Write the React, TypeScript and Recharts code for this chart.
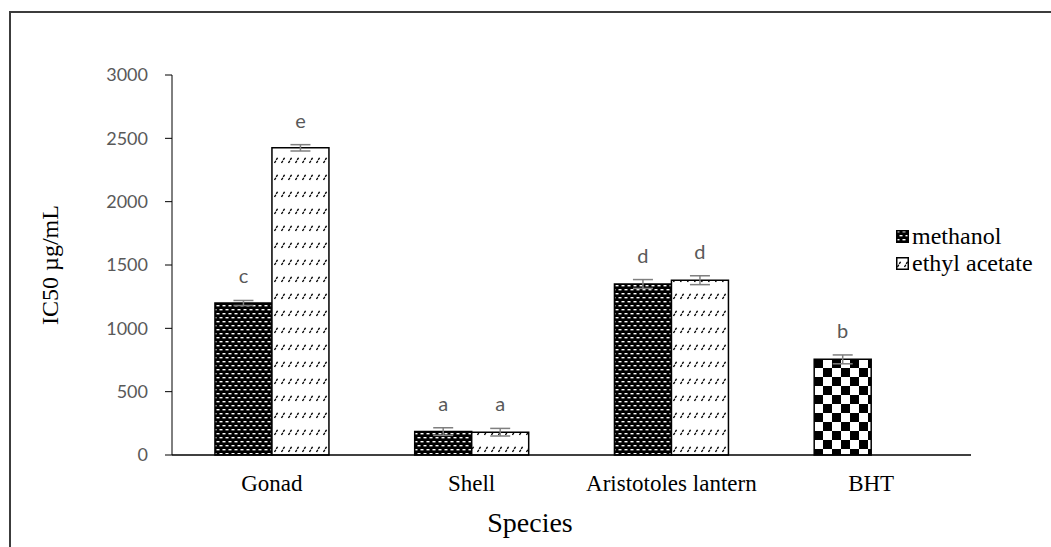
import { BarChart, Bar, XAxis, YAxis, ErrorBar, Cell, LabelList } from "recharts"

const categories = ["Gonad", "Shell", "Aristotoles lantern", "BHT"]
const methanol = [1200, 185, 1350, 755]
const methanolErr = [20, 30, 35, 35]
const ethylAcetate = [2425, 180, 1380, null]
const ethylErr = [25, 30, 35, null]
const methanolLetters = ["c", "a", "d", "b"]
const ethylLetters = ["e", "a", "d", ""]
const yTicks = [0, 500, 1000, 1500, 2000, 2500, 3000]

const PLOT_H = 380
const Y_MAX = 3000

const serif = "'Liberation Serif', 'Times New Roman', serif"
const sans = "Lato, 'Open Sans', sans-serif"

function Patterns({ suffix }: { suffix: string }) {
  return (
    <defs>
      <pattern id={`meth${suffix}`} width={6} height={8} patternUnits="userSpaceOnUse">
        <rect width={6} height={8} fill="#000" />
        <rect x={0.5} y={1} width={3} height={1.4} fill="#fff" />
        <rect x={3.5} y={5} width={3} height={1.4} fill="#fff" />
        <rect x={-2.5} y={5} width={3} height={1.4} fill="#fff" />
      </pattern>
      <pattern id={`ethyl${suffix}`} width={7} height={17} patternUnits="userSpaceOnUse">
        <rect width={7} height={17} fill="#fff" />
        <line x1={1.5} y1={10} x2={5} y2={4} stroke="#000" strokeWidth={1.4} strokeDasharray="2.6 0.9" />
      </pattern>
      <pattern id={`check${suffix}`} width={18} height={18} patternUnits="userSpaceOnUse" x={4} y={17}>
        <rect width={18} height={18} fill="#fff" />
        <rect x={0} y={0} width={9} height={9} fill="#000" />
        <rect x={9} y={9} width={9} height={9} fill="#000" />
      </pattern>
    </defs>
  )
}

function letterContent(letters: string[], errs: (number | null)[]) {
  return (props: any) => {
    const { x, y, width, index } = props
    const letter = letters[index]
    if (!letter) return null
    const errPx = ((errs[index] ?? 0) * PLOT_H) / Y_MAX
    return (
      <text
        x={x + width / 2}
        y={y - errPx - 17}
        textAnchor="middle"
        fill="#595959"
        fontFamily={sans}
        fontSize={20}
      >
        {letter}
      </text>
    )
  }
}

function LegendItem({ id, label }: { id: string; label: string }) {
  return (
    <div style={{ display: "flex", alignItems: "center", height: 26 }}>
      <svg width={13} height={13} style={{ marginRight: 3 }}>
        <Patterns suffix={`-lg-${id}`} />
        <rect x={0.75} y={0.75} width={11.5} height={11.5} fill={`url(#${id}-lg-${id})`} stroke="#000" strokeWidth={1.5} />
      </svg>
      <span style={{ fontFamily: serif, fontSize: 24, color: "#000", lineHeight: "26px" }}>{label}</span>
    </div>
  )
}

export default function App() {
  const data = categories.map((name, i) => ({
    name,
    methanol: methanol[i],
    methanolErr: methanolErr[i],
    ethyl: ethylAcetate[i],
    ethylErr: ethylErr[i],
  }))

  return (
    <div style={{ position: "fixed", left: 0, top: 0, width: 1051, height: 547, background: "#fff", overflow: "hidden" }}>
      <div style={{ position: "absolute", left: 9, top: 11, width: 1100, height: 700, border: "2px solid #3c3c3c" }} />
      <BarChart
        width={1051}
        height={547}
        data={data}
        margin={{ top: 75, right: 80, bottom: 62, left: 112 }}
        barCategoryGap="21.5%"
        barGap={0}
        style={{ position: "absolute", left: 0, top: 0 }}
      >
        <Patterns suffix="" />
        <XAxis
          dataKey="name"
          height={30}
          tickLine={false}
          axisLine={{ stroke: "#000", strokeWidth: 1.5 }}
          tickSize={0}
          tickMargin={20}
          tick={{ fill: "#000", fontFamily: serif, fontSize: 23 }}
        />
        <YAxis
          width={60}
          domain={[0, Y_MAX]}
          ticks={yTicks}
          tickLine={{ stroke: "#000", strokeWidth: 1 }}
          axisLine={{ stroke: "#000", strokeWidth: 1 }}
          tickSize={7}
          tickMargin={17}
          tick={{ fill: "#595959", fontFamily: sans, fontSize: 18 }}
        />
        <Bar dataKey="methanol" fill="url(#meth)" stroke="#000" strokeWidth={1.5} isAnimationActive={false}>
          {data.map((d) => (
            <Cell key={d.name} fill={d.name === "BHT" ? "url(#check)" : "url(#meth)"} />
          ))}
          <ErrorBar dataKey="methanolErr" width={10} stroke="#7f7f7f" strokeWidth={1.5} />
          <LabelList dataKey="methanol" content={letterContent(methanolLetters, methanolErr)} />
        </Bar>
        <Bar dataKey="ethyl" fill="url(#ethyl)" stroke="#000" strokeWidth={1.5} isAnimationActive={false}>
          <ErrorBar dataKey="ethylErr" width={10} stroke="#7f7f7f" strokeWidth={1.5} />
          <LabelList dataKey="ethyl" content={letterContent(ethylLetters, ethylErr)} />
        </Bar>
      </BarChart>

      <div
        style={{
          position: "absolute",
          left: 50,
          top: 265,
          transform: "translate(-50%, -50%) rotate(-90deg)",
          fontFamily: serif,
          fontSize: 24,
          whiteSpace: "nowrap",
          color: "#000",
        }}
      >
        IC50 µg/mL
      </div>
      <div
        style={{
          position: "absolute",
          left: 530,
          top: 523,
          transform: "translate(-50%, -50%)",
          fontFamily: serif,
          fontSize: 28,
          whiteSpace: "nowrap",
          color: "#000",
        }}
      >
        Species
      </div>
      <div style={{ position: "absolute", left: 896, top: 223 }}>
        <LegendItem id="meth" label="methanol" />
        <div style={{ height: 1 }} />
        <LegendItem id="ethyl" label="ethyl acetate" />
      </div>
    </div>
  )
}
